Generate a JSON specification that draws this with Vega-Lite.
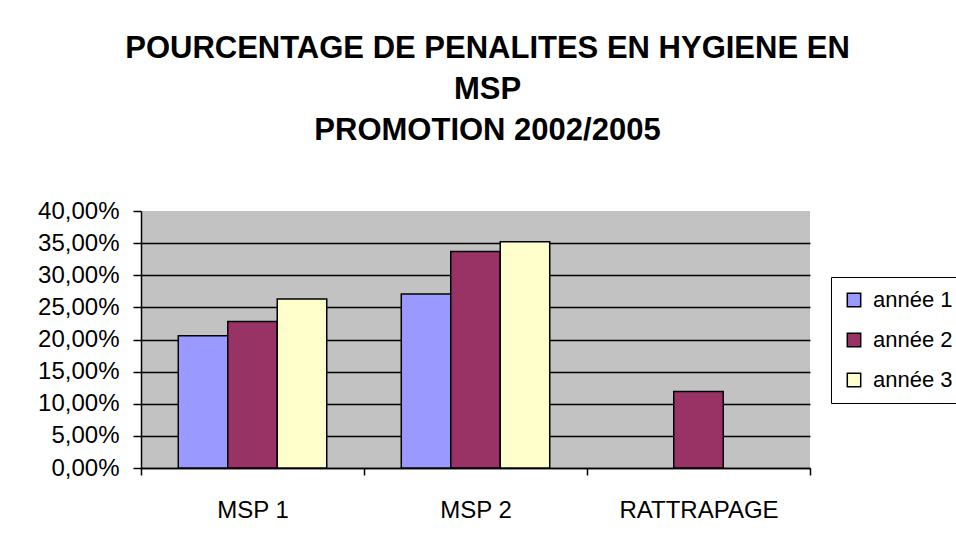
{
  "$schema": "https://vega.github.io/schema/vega-lite/v6.json",
  "width": 669,
  "height": 257,
  "autosize": {"type": "none"},
  "padding": {"left": 141, "top": 211, "right": 146, "bottom": 80},
  "background": "white",
  "title": {
    "text": ["POURCENTAGE DE PENALITES EN HYGIENE EN", "MSP", "PROMOTION 2002/2005"],
    "font": "Liberation Sans",
    "fontSize": 31,
    "fontWeight": "bold",
    "color": "black",
    "lineHeight": 41,
    "anchor": "middle",
    "dx": 12,
    "offset": 52
  },
  "data": {
    "values": [
      {"groupe": "MSP 1", "annee": "année 1", "valeur": 0.206},
      {"groupe": "MSP 1", "annee": "année 2", "valeur": 0.228},
      {"groupe": "MSP 1", "annee": "année 3", "valeur": 0.263},
      {"groupe": "MSP 2", "annee": "année 1", "valeur": 0.271},
      {"groupe": "MSP 2", "annee": "année 2", "valeur": 0.337},
      {"groupe": "MSP 2", "annee": "année 3", "valeur": 0.352},
      {"groupe": "RATTRAPAGE", "annee": "année 2", "valeur": 0.119}
    ]
  },
  "mark": {"type": "bar", "stroke": "black", "strokeWidth": 1.5},
  "encoding": {
    "x": {
      "field": "groupe",
      "type": "nominal",
      "sort": ["MSP 1", "MSP 2", "RATTRAPAGE"],
      "scale": {"paddingInner": 0, "paddingOuter": 0},
      "axis": {
        "title": null,
        "labelAngle": 0,
        "labelFont": "Liberation Sans",
        "labelFontSize": 24,
        "labelColor": "black",
        "labelPadding": 23,
        "domainColor": "black",
        "domainWidth": 1.5,
        "tickColor": "black",
        "tickWidth": 1.5,
        "tickSize": 7,
        "tickBand": "extent",
        "grid": false
      }
    },
    "xOffset": {
      "field": "annee",
      "type": "nominal",
      "scale": {"domain": ["année 1", "année 2", "année 3"], "paddingInner": 0, "paddingOuter": 0.753}
    },
    "y": {
      "field": "valeur",
      "type": "quantitative",
      "scale": {"domain": [0, 0.4], "nice": false},
      "axis": {
        "title": null,
        "values": [0, 0.05, 0.1, 0.15, 0.2, 0.25, 0.3, 0.35, 0.4],
        "labelExpr": "replace(format(datum.value, '.2%'), '.', ',')",
        "labelFont": "Liberation Sans",
        "labelFontSize": 24,
        "labelColor": "black",
        "labelPadding": 14,
        "domainColor": "black",
        "domainWidth": 1.5,
        "tickColor": "black",
        "tickWidth": 1.5,
        "tickSize": 8,
        "grid": true,
        "gridColor": "black",
        "gridOpacity": {"condition": {"test": "datum.value >= 0.39", "value": 0}, "value": 1},
        "gridWidth": 1.5
      }
    },
    "color": {
      "field": "annee",
      "type": "nominal",
      "scale": {"domain": ["année 1", "année 2", "année 3"], "range": ["#9999FF", "#993366", "#FFFFCC"]},
      "legend": {
        "title": null,
        "orient": "none",
        "legendX": 690,
        "legendY": 66
      }
    }
  },
  "config": {
    "view": {"fill": "#c2c2c2", "stroke": null},
    "legend": {
      "strokeColor": "black",
      "fillColor": "white",
      "padding": 12,
      "symbolType": "square",
      "symbolSize": 180,
      "symbolStrokeColor": "black",
      "symbolStrokeWidth": 1.5,
      "symbolOpacity": 1,
      "labelFont": "Liberation Sans",
      "labelFontSize": 22,
      "labelColor": "black",
      "labelOffset": 8,
      "rowPadding": 18
    }
  }
}
